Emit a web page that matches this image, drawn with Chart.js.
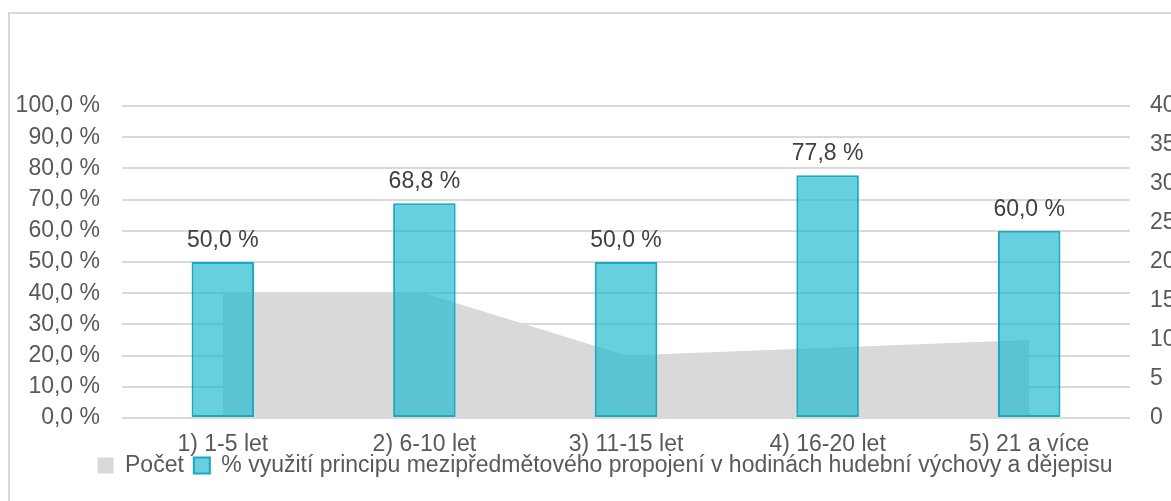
<!DOCTYPE html>
<html lang="cs">
<head>
<meta charset="utf-8">
<title>Využití mezipředmětového propojení</title>
<script src="https://cdn.jsdelivr.net/npm/chart.js@4"></script>
<style>
    html, body { margin: 0; padding: 0; background: #fff; overflow: hidden; }
    #frame {
        position: absolute;
        left: 8px;
        top: 12px;
        width: 1200px;
        height: 500px;
        border: 2px solid #d9d9d9;
    }
    #chartBox { position: relative; width: 1190px; height: 487px; }
</style>
</head>
<body>
<div id="frame">
    <div id="chartBox"><canvas id="praxeChart"></canvas></div>
</div>
<script>
// kategorie délky praxe
const categories = ['1) 1-5 let', '2) 6-10 let', '3) 11-15 let', '4) 16-20 let', '5) 21 a více'];
// počet respondentů (pravá osa)
const pocet = [16, 16, 8, 9, 10];
// procento využití principu (levá osa)
const vyuziti = [50.0, 68.8, 50.0, 77.8, 60.0];

const pocetLabel = 'Počet';
const vyuzitiLabel = '% využití principu mezipředmětového propojení v hodinách hudební výchovy a dějepisu';

const textColor = '#595959';
const fontFamily = "'Liberation Sans', Arial, sans-serif";
const fontSize = 23;

Chart.defaults.font.family = fontFamily;
Chart.defaults.font.size = fontSize;
Chart.defaults.color = textColor;

function czPercent(v) {
    return v.toFixed(1).replace('.', ',') + ' %';
}

// popisky hodnot nad sloupci
const barValueLabels = {
    id: 'barValueLabels',
    afterDatasetsDraw(chart) {
        const ctx = chart.ctx;
        chart.data.datasets.forEach((ds, i) => {
            if (ds.type !== 'bar') return;
            const meta = chart.getDatasetMeta(i);
            ctx.save();
            ctx.font = fontSize + 'px ' + fontFamily;
            ctx.fillStyle = '#404040';
            ctx.textAlign = 'center';
            ctx.textBaseline = 'alphabetic';
            meta.data.forEach((bar, j) => {
                ctx.fillText(czPercent(ds.data[j]), bar.x, bar.y - 15);
            });
            ctx.restore();
        });
    }
};

// legenda sedí těsně pod popisky osy x
const legendNudge = {
    id: 'legendNudge',
    afterLayout(chart) {
        const lg = chart.legend;
        if (!lg) return;
        lg.top -= 14;
        lg.bottom -= 14;
    }
};

const ctx = document.getElementById('praxeChart').getContext('2d');

new Chart(ctx, {
    data: {
        labels: categories,
        datasets: [
            {
                type: 'line',
                label: pocetLabel,
                data: pocet,
                yAxisID: 'y1',
                fill: 'origin',
                backgroundColor: '#d9d9d9',
                borderColor: '#d9d9d9',
                borderWidth: 0,
                pointRadius: 0,
                tension: 0,
                order: 2
            },
            {
                type: 'bar',
                label: vyuzitiLabel,
                data: vyuziti,
                yAxisID: 'y',
                backgroundColor: 'rgba(30, 186, 208, 0.68)',
                borderColor: '#17a9bf',
                borderWidth: 2,
                borderSkipped: false,
                categoryPercentage: 1,
                barPercentage: 0.31,
                order: 1
            }
        ]
    },
    options: {
        responsive: true,
        maintainAspectRatio: false,
        animation: false,
        layout: {
            padding: { top: 92, left: 0, right: 0, bottom: 0 }
        },
        plugins: {
            tooltip: { enabled: false },
            legend: {
                position: 'bottom',
                labels: {
                    boxWidth: 16,
                    boxHeight: 16,
                    padding: 10,
                    color: textColor,
                    sort: (a, b) => a.datasetIndex - b.datasetIndex
                }
            }
        },
        scales: {
            x: {
                grid: { display: false },
                border: { display: false },
                ticks: { padding: 5, color: textColor, maxRotation: 0 },
                afterFit(scale) { scale.height = 40; }
            },
            y: {
                position: 'left',
                min: 0,
                max: 100,
                ticks: {
                    stepSize: 10,
                    padding: 22,
                    color: textColor,
                    callback: v => czPercent(v)
                },
                grid: { color: '#d9d9d9', lineWidth: 2, drawTicks: false },
                border: { display: false },
                afterFit(scale) { scale.width = 112; }
            },
            y1: {
                position: 'right',
                min: 0,
                max: 40,
                ticks: { stepSize: 5, padding: 20, color: textColor },
                grid: { display: false, drawTicks: false },
                border: { display: false },
                afterFit(scale) { scale.width = 70; }
            }
        }
    },
    plugins: [barValueLabels, legendNudge]
});
</script>
</body>
</html>
